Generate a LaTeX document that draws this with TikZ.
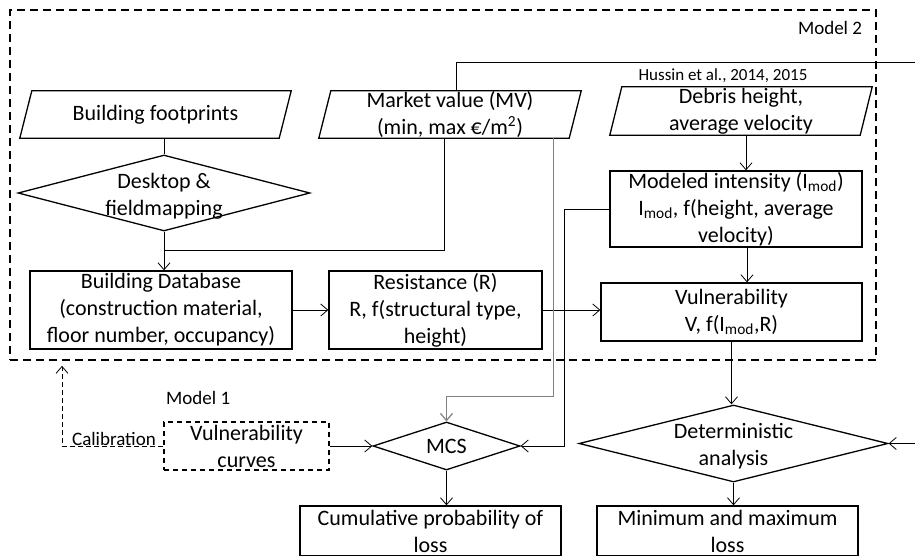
\documentclass[tikz,border=0pt]{standalone}
\usepackage{fontspec}
\setmainfont{Carlito}
\usetikzlibrary{shapes.geometric,arrows.meta}
\begin{document}
\begin{tikzpicture}[x=1pt,y=-1pt,
  every node/.style={inner sep=0pt,font=\fontsize{22}{27}\selectfont,align=center},
  procbox/.style={draw,line width=1.3pt},
  datain/.style={minimum width=250,minimum height=47},
  slantedge/.style={line width=1.3pt},
  choice/.style={diamond,draw,line width=1.3pt},
  link/.style={line width=0.8pt},
  flow/.style={line width=0.8pt,-{Straight Barb[length=7pt,width=12pt]}},
  smalltext/.style={font=\fontsize{19}{23}\selectfont}]
\useasboundingbox (0,0) rectangle (915,556);
\node[draw,line width=1.6pt,dash pattern=on 8pt off 5pt,minimum width=866,minimum height=350] (model2) at (443,185) {};
\node[smalltext] (lab2) at (830,28) {Model 2};
\node[font=\fontsize{17}{20}\selectfont] (ref) at (723,76) {Hussin et al., 2014, 2015};
\node[datain,minimum width=259,label={center:Building footprints}] (foot) at (155.5,114.5) {};
\node[datain,label={[align=center]center:Market value (MV)\\(min, max €/m\textsuperscript{2})}] (mv) at (450,114.5) {};
\node[datain,minimum height=48,label={[align=center]center:Debris height,\\average velocity}] (debris) at (741,111) {};
\foreach \n in {foot,mv,debris}
  \draw[slantedge] ([xshift=-6pt]\n.south west) -- ([xshift=-6pt]\n.south east)
    -- ([xshift=6pt]\n.north east) -- ([xshift=6pt]\n.north west) -- cycle;
\node[choice,minimum width=292,minimum height=76,label={[align=center,yshift=-3pt]center:Desktop \&\\fieldmapping}] (desk) at (164,193) {};
\node[procbox,minimum width=262,minimum height=78] (bdb) at (161,310) {Building Database\\(construction material,\\floor number,  occupancy)};
\node[procbox,minimum width=213,minimum height=78] (res) at (435.5,310) {Resistance (R)\\R, f(structural type,\\height)};
\node[procbox,minimum width=252,minimum height=76] (mi) at (736,209) {Modeled intensity (I\textsubscript{mod})\\I\textsubscript{mod}, f(height, average\\velocity)};
\node[procbox,minimum width=261,minimum height=58] (vul) at (731.5,312) {Vulnerability\\V, f(I\textsubscript{mod},R)};
\node[smalltext,anchor=west] (lab1) at (166,398) {Model 1};
\node[procbox,dash pattern=on 5pt off 4pt,minimum width=165,minimum height=48] (vc) at (246.5,446) {Vulnerability\\curves};
\node[choice,minimum width=147,minimum height=48,label={center:MCS}] (mcs) at (446.5,446) {};
\node[choice,minimum width=309,minimum height=77,label={[align=center,yshift=-3pt]center:Deterministic\\analysis}] (det) at (733.5,443.5) {};
\node[procbox,minimum width=261,minimum height=50] (cum) at (430.5,531) {Cumulative probability of\\loss};
\node[procbox,minimum width=261,minimum height=50] (mm) at (727.5,531) {Minimum and maximum\\loss};
\node[smalltext,anchor=base] (calib) at (114,445) {Calibration};
\coordinate (join) at (164,250);
\coordinate (outtop) at (915,62);
\coordinate (inright) at (915,443.5);
\coordinate (calcorner) at (62,446);
\draw[link] (desk.north) -- (desk.north |- foot.south);
\draw[flow] (desk.south) -- (desk.south |- bdb.north);
\draw[link] ([xshift=-6pt]mv.south) |- (join);
\draw[link] ([xshift=6pt]mv.north) |- (outtop);
\draw[flow] (bdb.east) -- (bdb.east -| res.west);
\draw[flow] (res.east) -- (res.east -| vul.west);
\draw[flow] ([xshift=10pt]mi.north |- debris.south) -- ([xshift=10pt]mi.north);
\draw[flow] ([xshift=11pt]mi.south) -- ([xshift=11pt]mi.south |- vul.north);
\draw[flow] (vul.south) -- (vul.south |- det.north);
\draw[flow] (det.south) -- (det.south |- mm.north);
\draw[flow] (inright) -- (det.east);
\draw[flow] (mi.west) -- ++(-45,0) |- (mcs.east);
\draw[flow,gray,line width=1.2pt] ([xshift=-22pt]mv.south east) -- ++(0,258) -| (mcs.north);
\draw[flow] (vc.east) -- (mcs.west);
\draw[flow] (mcs.south) -- (mcs.south |- cum.north);
\draw[flow,dash pattern=on 5pt off 3pt,shorten >=5pt] (vc.west) -- (calcorner) -- (calcorner |- model2.south);
\end{tikzpicture}
\end{document}
